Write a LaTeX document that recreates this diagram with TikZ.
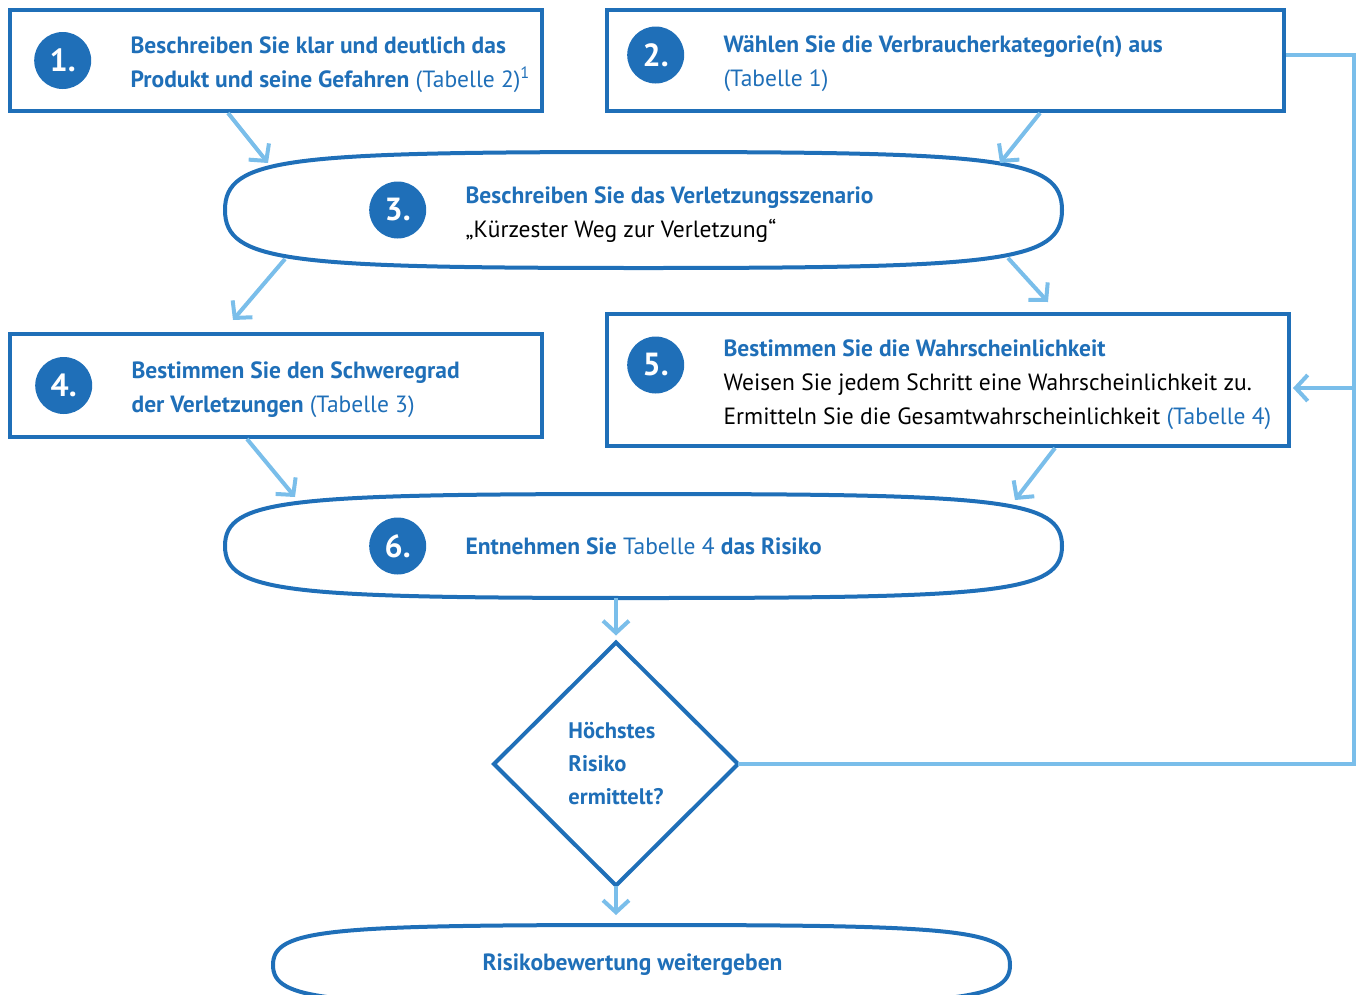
\documentclass[tikz,border=0pt]{standalone}
\usepackage{fontspec}
\setmainfont{PT Sans}
\usetikzlibrary{positioning,calc,shapes.geometric,arrows.meta}
\definecolor{dblue}{RGB}{31,111,184}
\definecolor{lblue}{RGB}{122,190,234}

% flattened oval drawn round a named node
\newcommand{\pillborder}[1]{%
  \draw[pillline] (#1.north)
    .. controls ($(#1.north)!0.85!(#1.north east)$) and ($(#1.east)!0.9!(#1.north east)$) .. (#1.east)
    .. controls ($(#1.east)!0.9!(#1.south east)$) and ($(#1.south)!0.85!(#1.south east)$) .. (#1.south)
    .. controls ($(#1.south)!0.85!(#1.south west)$) and ($(#1.west)!0.9!(#1.south west)$) .. (#1.west)
    .. controls ($(#1.west)!0.9!(#1.north west)$) and ($(#1.north)!0.85!(#1.north west)$) .. cycle;}

\begin{document}
\begin{tikzpicture}[x=1pt, y=-1pt,
        box/.style={rectangle, draw=dblue, line width=4pt, inner sep=0pt, outer sep=0pt},
        pill/.style={rectangle, inner sep=0pt, outer sep=0pt},
        pillline/.style={draw=dblue, line width=4pt},
        num/.style={circle, fill=dblue, text=white, minimum size=57pt, inner sep=0pt, font=\fontsize{32}{32}\selectfont\bfseries},
        txt/.style={align=left, inner sep=0pt, text=dblue, font=\fontsize{23.5}{34}\selectfont},
        decision/.style={diamond, draw=dblue, line width=4pt, inner sep=0pt, outer sep=0pt, minimum width=244pt, minimum height=243pt, align=left, text=dblue, font=\fontsize{22.5}{33}\selectfont\bfseries},
        flow/.style={draw=lblue, line width=4pt, -{Straight Barb[length=12pt,width=26pt]}},
        back/.style={draw=lblue, line width=4pt}
    ]
    \useasboundingbox (0,0) rectangle (1361,994);
    % steps 1 and 2
    \node [box, minimum width=532pt, minimum height=101pt] (b1) at (276,60.5) {};
    \node [num, right=24pt of b1.west] (n1) {1.};
    \node [txt, right=39pt of n1, yshift=-4pt] (t1) {\textbf{Beschreiben Sie klar und deutlich das}\\\textbf{Produkt und seine Gefahren} (Tabelle 2)\textsuperscript{1}};
    \node [box, minimum width=677pt, minimum height=101pt] (b2) at (945.5,60.5) {};
    \node [num, right=20pt of b2.west, yshift=5.5pt] (n2) {2.};
    \node [txt, right=39pt of n2, yshift=-9pt] (t2) {\textbf{Wählen Sie die Verbraucherkategorie(n) aus}\\(Tabelle 1)};
    % step 3
    \node [pill, minimum width=837pt, minimum height=116pt] (e3) at (643.5,210) {};
    \pillborder{e3}
    \node [num, right=144pt of e3.west] (n3) {3.};
    \node [txt, right=39pt of n3, yshift=-4.5pt] (t3) {\textbf{Beschreiben Sie das Verletzungsszenario}\\{\color{black}„Kürzester Weg zur Verletzung“}};
    % steps 4 and 5
    \node [box, minimum width=532pt, minimum height=103pt] (b4) at (276,385.5) {};
    \node [num, right=25pt of b4.west] (n4) {4.};
    \node [txt, right=39pt of n4, yshift=-4pt] (t4) {\textbf{Bestimmen Sie den Schweregrad}\\\textbf{der Verletzungen} (Tabelle 3)};
    \node [box, minimum width=682pt, minimum height=132pt] (b5) at (948,380) {};
    \node [num, right=20pt of b5.west, yshift=15pt] (n5) {5.};
    \node [txt, right=39pt of n5, yshift=-20pt] (t5) {\textbf{Bestimmen Sie die Wahrscheinlichkeit}\\{\color{black}Weisen Sie jedem Schritt eine Wahrscheinlichkeit zu.}\\{\color{black}Ermitteln Sie die Gesamtwahrscheinlichkeit} (Tabelle 4)};
    % step 6
    \node [pill, minimum width=837pt, minimum height=104pt] (e6) at (643.5,546) {};
    \pillborder{e6}
    \node [num, right=144pt of e6.west] (n6) {6.};
    \node [txt, right=39pt of n6] (t6) {\textbf{Entnehmen Sie} Tabelle 4 \textbf{das Risiko}};
    % decision and end
    \node [decision] (d) at (616,764) {Höchstes\\Risiko\\ermittelt?};
    \node [pill, minimum width=737pt, minimum height=80pt] (e7) at (641.5,965) {};
    \pillborder{e7}
    \node [txt, xshift=-9pt] (t7) at (e7) {\textbf{Risikobewertung weitergeben}};
    % connectors
    \path [flow] ($(b1.south)+(-48,2)$) -- ($(e3.north west)+(43,11)$);
    \path [flow] ($(b2.south)+(94.5,2)$) -- ($(e3.north east)+(-62,11)$);
    \path [flow] ($(e3.south west)+(60,-9)$) -- ($(b4.north west)+(223,-14)$);
    \path [flow] ($(e3.south east)+(-54,-10)$) -- ($(b5.north east)+(-241,-12)$);
    \path [flow] ($(b4.south)+(-29,2)$) -- ($(e6.north west)+(70,3)$);
    \path [flow] ($(b5.south east)+(-234,2)$) -- ($(e6.north east)+(-47,6)$);
    \path [flow, shorten >=7pt] (e6.south -| d.north) -- (d.north);
    \path [flow, shorten >=10pt] (d.south) -- (e7.north -| d.south);
    \coordinate (turn) at ($(d.east)+(616,0)$);
    \coordinate (join) at ($(b5.east)+(0,8)$);
    \path [back] (d.east) -- (turn) |- ($(b2.east)+(2,-5.5)$);
    \path [flow, shorten >=4pt] (turn |- join) -- (join);
\end{tikzpicture}
\end{document}
